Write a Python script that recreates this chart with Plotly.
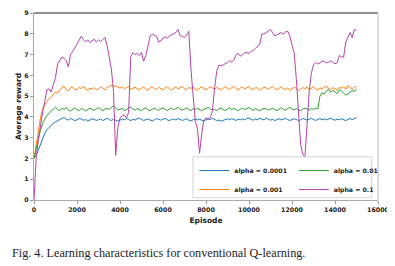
import plotly.graph_objects as go

# Episodes (x) shared by all series: 0, 100, ..., 15000
episodes = list(range(0, 15001, 100))

alpha_0001 = [
    2.0, 2.15, 2.4, 2.7, 3.0, 3.2, 3.38, 3.5, 3.6, 3.7,
    3.76, 3.82, 3.9, 3.93, 3.97, 3.88, 3.85, 3.92, 3.88, 3.82,
    3.86, 3.93, 3.89, 3.84, 3.87, 3.8, 3.85, 3.91, 3.88, 3.83,
    3.86, 3.9, 3.82, 3.88, 3.94, 3.86, 3.83, 3.89, 3.86, 3.8,
    3.84, 3.9, 3.86, 3.92, 3.87, 3.82, 3.88, 3.85, 3.91, 3.94,
    3.88, 3.83, 3.86, 3.9, 3.85, 3.81, 3.86, 3.92, 3.88, 3.84,
    3.89, 3.93, 3.86, 3.82, 3.87, 3.9, 3.85, 3.92, 3.88, 3.83,
    3.87, 3.91, 3.84, 3.8, 3.86, 3.9, 3.85, 3.89, 3.84, 3.8,
    3.86, 3.9, 3.87, 3.93, 3.88, 3.82, 3.85, 3.79, 3.83, 3.88,
    3.91, 3.86, 3.92, 3.87, 3.83, 3.89, 3.85, 3.9, 3.86, 3.92,
    3.95, 3.88, 3.84, 3.9, 3.86, 3.93, 3.89, 3.85, 3.94, 3.88,
    3.84, 3.89, 3.82, 3.87, 3.91, 3.85, 3.88, 3.93, 3.87, 3.83,
    3.86, 3.91, 3.88, 3.82, 3.86, 3.92, 3.89, 3.84, 3.88, 3.93,
    3.87, 3.83, 3.88, 3.92, 3.86, 3.9, 3.85, 3.91, 3.94, 3.88,
    3.84, 3.89, 3.86, 3.91, 3.85, 3.82, 3.88, 3.92, 3.87, 3.93,
    3.96]

alpha_001 = [
    2.0, 2.7, 3.4, 3.95, 4.4, 4.6, 4.75, 4.88, 4.95, 5.08,
    5.2, 5.15, 5.28, 5.42, 5.48, 5.3, 5.26, 5.4, 5.44, 5.33,
    5.3, 5.42, 5.36, 5.47, 5.34, 5.28, 5.38, 5.33, 5.41, 5.3,
    5.35, 5.44, 5.38, 5.3, 5.42, 5.48, 5.52, 5.46, 5.5, 5.43,
    5.38, 5.45, 5.36, 5.41, 5.47, 5.32, 5.38, 5.43, 5.35, 5.3,
    5.38, 5.44, 5.33, 5.28, 5.4, 5.46, 5.36, 5.32, 5.42, 5.37,
    5.3, 5.41, 5.46, 5.35, 5.29, 5.38, 5.44, 5.34, 5.4, 5.47,
    5.36, 5.31, 5.42, 5.37, 5.45, 5.33, 5.28, 5.39, 5.44, 5.35,
    5.3, 5.38, 5.45, 5.4, 5.33, 5.42, 5.36, 5.29, 5.38, 5.46,
    5.37, 5.32, 5.41, 5.47, 5.36, 5.3, 5.39, 5.44, 5.34, 5.4,
    5.46, 5.35, 5.31, 5.42, 5.38, 5.28, 5.36, 5.43, 5.39, 5.33,
    5.41, 5.47, 5.36, 5.3, 5.38, 5.44, 5.35, 5.32, 5.4, 5.28,
    5.35, 5.43, 5.38, 5.26, 5.33, 5.41, 5.36, 5.44, 5.3, 5.38,
    5.46, 5.34, 5.29, 5.4, 5.35, 5.43, 5.48, 5.37, 5.32, 5.41,
    5.36, 5.3, 5.42, 5.38, 5.45, 5.33, 5.5, 5.4, 5.34, 5.43,
    5.47]

alpha_01 = [
    2.0, 2.5, 2.95, 3.35, 3.68, 3.92, 4.08, 4.18, 4.28, 4.36,
    4.47, 4.35, 4.3, 4.42, 4.36, 4.46, 4.32, 4.28, 4.38, 4.44,
    4.34, 4.3, 4.4, 4.36, 4.28, 4.33, 4.42, 4.37, 4.31, 4.39,
    4.45, 4.36, 4.3, 4.38, 4.42, 4.35, 4.47, 4.52, 4.4, 4.33,
    4.36, 4.42, 4.3, 4.35, 4.41, 4.48, 4.37, 4.32, 4.4, 4.35,
    4.3, 4.38, 4.44, 4.34, 4.29, 4.37, 4.42, 4.36, 4.31, 4.39,
    4.44, 4.36, 4.3, 4.38, 4.42, 4.34, 4.4, 4.46, 4.37, 4.33,
    4.38, 4.43, 4.35, 4.3, 4.4, 4.36, 4.42, 4.34, 4.29, 4.37,
    4.41, 4.46, 4.38, 4.33, 4.36, 4.3, 4.39, 4.43, 4.35, 4.31,
    4.38, 4.44, 4.36, 4.41, 4.34, 4.3, 4.37, 4.42, 4.35, 4.39,
    4.45, 4.37, 4.32, 4.4, 4.35, 4.29, 4.36, 4.42, 4.38, 4.33,
    4.37, 4.41, 4.35, 4.3, 4.38, 4.44, 4.36, 4.32, 4.4, 4.46,
    4.38, 4.33, 4.4, 4.35, 4.3, 4.37, 4.42, 4.38, 4.34, 4.4,
    4.36, 4.42, 4.38, 5.0, 5.15, 5.1, 5.25, 5.32, 5.18, 5.28,
    5.22, 5.12, 5.3, 5.25, 5.15, 5.05, 5.1, 5.2, 5.28, 5.22,
    5.35]

alpha_1 = [
    0.0, 2.0, 2.9, 3.6, 4.2, 4.75, 5.3, 5.35, 5.2, 5.55,
    5.9, 6.55, 6.75, 6.88, 6.82, 6.7, 6.4, 7.0, 7.15, 7.3,
    7.5, 7.7, 7.88, 7.72, 7.62, 7.7, 7.58, 7.66, 7.74, 7.6,
    7.7, 7.62, 7.7, 7.82, 7.45, 6.9, 6.3, 5.2, 2.15, 3.5,
    3.95, 4.05, 4.1, 3.95, 4.2, 6.9, 7.1, 7.0, 7.05, 6.95,
    7.1, 6.68, 6.95, 7.4, 7.9, 7.98, 7.92, 7.88, 7.6, 7.65,
    7.8, 7.85, 7.78, 7.9, 7.95, 8.02, 8.06, 8.2, 7.9, 7.88,
    7.82, 7.95, 8.12, 6.3, 5.0, 3.8, 3.45, 2.25, 3.16, 3.85,
    3.95, 3.9, 3.95, 4.3, 5.4, 6.2, 6.5, 6.45, 6.5, 6.55,
    6.62, 6.7, 6.65, 6.75, 7.0, 7.05, 6.92, 7.0, 7.08, 7.1,
    7.05, 7.15, 7.2, 7.3, 7.42, 7.5, 7.98, 8.0, 8.06, 8.12,
    8.2, 8.05, 7.9, 7.95, 8.02, 8.06, 7.98, 8.1, 8.12, 7.88,
    7.45, 7.1, 5.85, 3.95, 2.69, 2.21, 2.05, 3.6, 5.2, 6.1,
    6.5, 6.62, 6.55, 6.58, 6.7, 6.66, 6.6, 6.64, 6.7, 6.62,
    6.56, 6.6, 6.95, 6.9, 6.87, 7.6, 7.8, 8.06, 7.82, 8.21,
    8.14]

series_names = ["alpha = 0.0001", "alpha = 0.001", "alpha = 0.01", "alpha = 0.1"]
series_values = [alpha_0001, alpha_001, alpha_01, alpha_1]
series_colors = ["#1f77b4", "#ff7f0e", "#2ca02c", "#b444a8"]
series_legends = ["legend", "legend", "legend2", "legend2"]

x_ticks = list(range(0, 16001, 2000))
x_tick_labels = [str(v) for v in x_ticks]
y_ticks = list(range(0, 10))
y_tick_labels = [str(v) for v in y_ticks]

fig = go.Figure()
for name, vals, col, lg in zip(series_names, series_values, series_colors, series_legends):
    fig.add_trace(go.Scatter(x=episodes, y=vals, mode="lines", name=name,
                             line=dict(color=col, width=1), legend=lg))

tick_font = dict(family="DejaVu Sans", size=6.3, color="#222", weight="bold")
title_font = dict(family="DejaVu Sans", size=7.5, color="#222", weight="bold")
legend_font = dict(family="DejaVu Sans", size=6.2, color="#222", weight="bold")

# page body has an 8px margin, so the figure is 8px smaller than the window
fig.update_layout(
    width=387, height=258,
    margin=dict(l=26, r=17, t=5, b=66, autoexpand=False),
    plot_bgcolor="white", paper_bgcolor="white",
    xaxis=dict(range=[0, 16000], tickvals=x_ticks, ticktext=x_tick_labels,
               ticks="outside", ticklen=3, automargin=False, ticklabeloverflow="allow",
               tickcolor="#999", showline=True, linecolor="#aaa", linewidth=1,
               showgrid=False, zeroline=False, tickfont=tick_font,
               title=dict(text="Episode", font=title_font, standoff=6)),
    yaxis=dict(range=[0, 9], tickvals=y_ticks, ticktext=y_tick_labels,
               ticks="outside", ticklen=3, automargin=False, ticklabeloverflow="allow",
               tickcolor="#999", showline=True, linecolor="#aaa", linewidth=1,
               showgrid=False, zeroline=False, tickfont=tick_font,
               title=dict(text="Average reward", font=title_font, standoff=1)),
    legend=dict(x=0.466, y=0.235, xanchor="left", yanchor="top",
                bgcolor="rgba(0,0,0,0)", borderwidth=0, font=legend_font,
                itemwidth=30),
    legend2=dict(x=0.755, y=0.235, xanchor="left", yanchor="top",
                 bgcolor="rgba(0,0,0,0)", borderwidth=0, font=legend_font,
                 itemwidth=30),
    shapes=[
        dict(type="line", xref="paper", yref="paper", x0=0, x1=1, y0=1, y1=1,
             line=dict(color="#222", width=1.2), layer="above"),
        dict(type="line", xref="paper", yref="paper", x0=1, x1=1, y0=0, y1=1,
             line=dict(color="#bbb", width=1), layer="above"),
        dict(type="rect", xref="paper", yref="paper", x0=0.462, x1=0.982, y0=0.012, y1=0.231,
             line=dict(color="#ccc", width=0.8), fillcolor="rgba(255,255,255,0.85)",
             layer="above"),
    ],
    annotations=[
        dict(text="Fig. 4. Learning characteristics for conventional Q-learning.",
             xref="paper", yref="paper", x=-0.07, y=-0.285, xanchor="left",
             yanchor="middle", showarrow=False,
             font=dict(family="Liberation Serif", size=12.2, color="#222")),
    ],
)

fig.write_html("out.html")
